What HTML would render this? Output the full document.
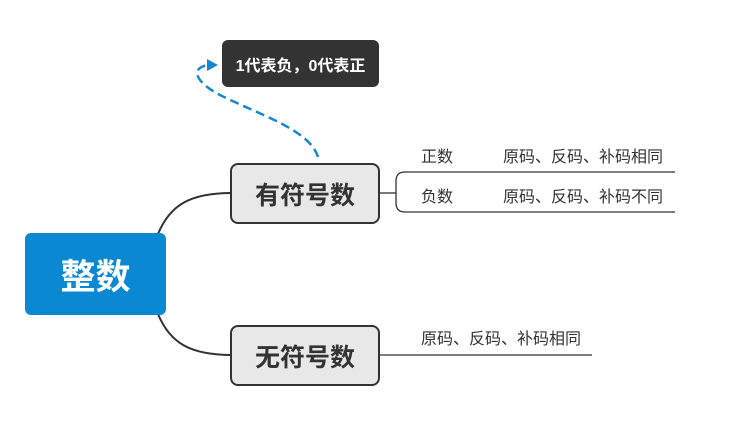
<!DOCTYPE html><html><head><meta charset="utf-8"><style>
body{margin:0;width:752px;height:434px;background:#fff;position:relative;overflow:hidden;font-family:"Liberation Sans","Noto Sans CJK SC",sans-serif}
.b{position:absolute;box-sizing:border-box;display:flex;align-items:center;justify-content:center}
.t{position:absolute;font-size:16px;color:#333;line-height:18px}
</style></head><body>
<svg width="752" height="434" style="position:absolute;left:0;top:0">
<path d="M158 234 C170 205,190 193,232 193" fill="none" stroke="#333" stroke-width="2"/>
<path d="M158 314 C170 343,190 355,232 355" fill="none" stroke="#333" stroke-width="2"/>
<path d="M380 193 H396" stroke="#333" stroke-width="1.3" fill="none"/>
<path d="M405 172 Q396 172 396 181 V203 Q396 212 405 212 H675 M405 172 H675" stroke="#333" stroke-width="1.3" fill="none"/>
<path d="M380 355 H592" stroke="#333" stroke-width="1.3" fill="none"/>
<path d="M318 157 C310 130,260 115,220 95 C195 82,190 68,208 65" fill="none" stroke="#1487cf" stroke-width="2.5" stroke-dasharray="9,5"/>
<polygon points="207,59 218,65 207,71" fill="#1487cf"/>
</svg>
<div class="b" style="left:25px;top:233px;width:141px;height:82px;background:#0a89d2;border-radius:6px;color:#fff;font-size:35px;font-weight:bold">整数</div>
<div class="b" style="left:230px;top:163px;width:150px;height:61px;background:#e8e8e8;border:2px solid #333;border-radius:8px;color:#333;font-size:25px;font-weight:bold">有符号数</div>
<div class="b" style="left:230px;top:325px;width:150px;height:61px;background:#e8e8e8;border:2px solid #333;border-radius:8px;color:#333;font-size:25px;font-weight:bold">无符号数</div>
<div class="b" style="left:222px;top:40px;width:157px;height:47px;background:#333;border-radius:6px;color:#fff;font-size:16px;font-weight:bold">1代表负，0代表正</div>
<div class="t" style="left:421px;top:149px">正数</div>
<div class="t" style="left:421px;top:189px">负数</div>
<div class="t" style="left:503px;top:149px">原码、反码、补码相同</div>
<div class="t" style="left:503px;top:189px">原码、反码、补码不同</div>
<div class="t" style="left:421px;top:331px">原码、反码、补码相同</div>
</body></html>
